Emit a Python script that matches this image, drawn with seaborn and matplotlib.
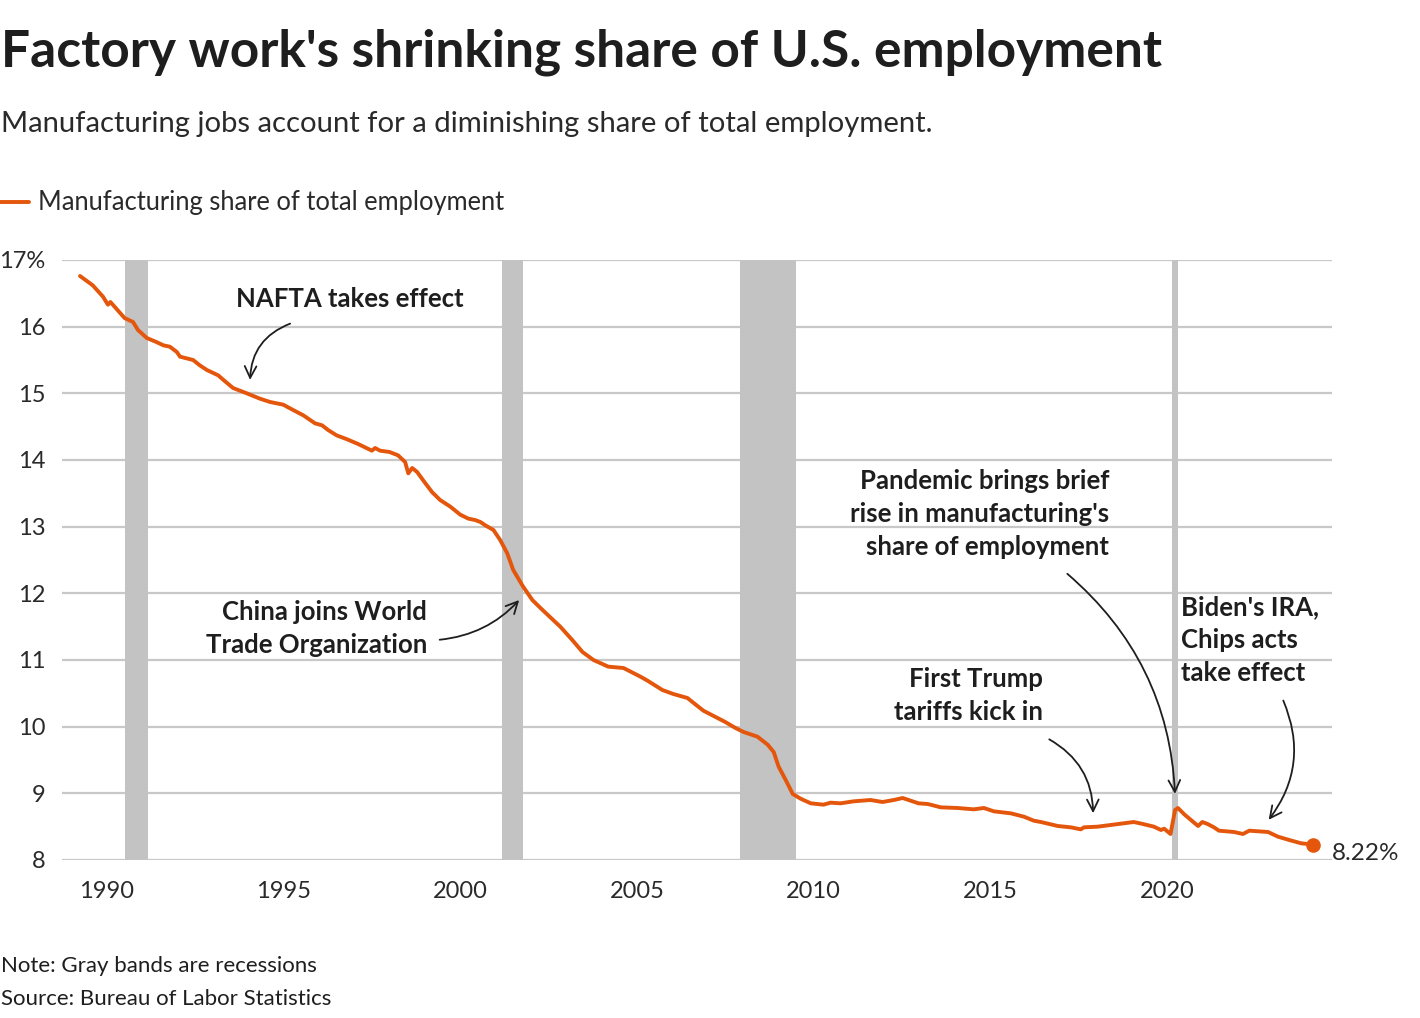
import matplotlib
matplotlib.use("Agg")
import matplotlib.pyplot as plt
import seaborn as sns
import pandas as pd

# ---------------- data ----------------
dates = [1989.24, 1989.60, 1989.89, 1990.03, 1990.10, 1990.50, 1990.74, 1990.88,
         1991.13, 1991.40, 1991.60, 1991.78, 1991.98, 1992.07, 1992.44, 1992.63,
         1992.83, 1993.15, 1993.30, 1993.57, 1993.96, 1994.33, 1994.62, 1994.99,
         1995.27, 1995.56, 1995.89, 1996.09, 1996.26, 1996.50, 1996.80, 1997.11,
         1997.50, 1997.59, 1997.73, 1998.00, 1998.24, 1998.44, 1998.53, 1998.64,
         1998.78, 1999.00, 1999.20, 1999.43, 1999.72, 2000.00, 2000.23, 2000.42,
         2000.57, 2000.71, 2000.94, 2001.13, 2001.33, 2001.50, 2001.78, 2002.04,
         2002.27, 2002.49, 2002.83, 2003.17, 2003.46, 2003.77, 2004.19, 2004.62,
         2005.10, 2005.30, 2005.72, 2006.03, 2006.43, 2006.57, 2006.88, 2007.17,
         2007.50, 2007.79, 2008.02, 2008.41, 2008.70, 2008.87, 2009.01, 2009.21,
         2009.41, 2009.63, 2009.92, 2010.28, 2010.48, 2010.76, 2011.13, 2011.61,
         2011.95, 2012.27, 2012.52, 2012.97, 2013.23, 2013.60, 2014.08, 2014.53,
         2014.82, 2015.10, 2015.58, 2015.95, 2016.23, 2016.43, 2016.91, 2017.28,
         2017.56, 2017.65, 2018.04, 2018.33, 2018.61, 2019.06, 2019.32, 2019.63,
         2019.83, 2019.92, 2020.10, 2020.23, 2020.31, 2020.50, 2020.77, 2020.88,
         2021.00, 2021.15, 2021.33, 2021.47, 2021.90, 2022.15, 2022.33, 2022.86,
         2023.14, 2023.46, 2023.80, 2023.99, 2024.13]
share = [16.76, 16.62, 16.45, 16.33, 16.37, 16.13, 16.07, 15.95,
         15.83, 15.77, 15.72, 15.70, 15.62, 15.55, 15.50, 15.42,
         15.35, 15.27, 15.20, 15.08, 15.00, 14.92, 14.87, 14.83,
         14.75, 14.67, 14.55, 14.52, 14.45, 14.37, 14.31, 14.24,
         14.14, 14.18, 14.14, 14.12, 14.07, 13.97, 13.80, 13.88,
         13.82, 13.66, 13.52, 13.40, 13.30, 13.18, 13.12, 13.10,
         13.07, 13.02, 12.95, 12.80, 12.60, 12.35, 12.10, 11.90,
         11.78, 11.67, 11.50, 11.30, 11.12, 11.00, 10.90, 10.88,
         10.75, 10.69, 10.55, 10.49, 10.43, 10.37, 10.24, 10.16,
         10.07, 9.98, 9.92, 9.85, 9.73, 9.62, 9.40, 9.20,
         8.99, 8.92, 8.85, 8.83, 8.86, 8.85, 8.88, 8.90,
         8.87, 8.90, 8.93, 8.85, 8.84, 8.79, 8.78, 8.76,
         8.78, 8.73, 8.70, 8.65, 8.59, 8.57, 8.51, 8.49,
         8.46, 8.49, 8.50, 8.52, 8.54, 8.57, 8.54, 8.50,
         8.45, 8.47, 8.39, 8.75, 8.78, 8.68, 8.56, 8.51,
         8.57, 8.54, 8.49, 8.44, 8.42, 8.39, 8.44, 8.42,
         8.35, 8.30, 8.25, 8.24, 8.22]

rec_start = [1990.50, 2001.19, 2007.92, 2020.15]
rec_end = [1991.17, 2001.79, 2009.50, 2020.32]

x_ticks = [1990, 1995, 2000, 2005, 2010, 2015, 2020]
y_ticks = [8, 9, 10, 11, 12, 13, 14, 15, 16, 17]
y_labels = ["8", "9", "10", "11", "12", "13", "14", "15", "16", "17%"]

series_name = "Manufacturing share of total employment"
end_label = "8.22%"

df = pd.DataFrame({"date": dates, "share": share})

# ---------------- style ----------------
sns.set_theme(style="white")
FONT = ["Lato", "DejaVu Sans"]
plt.rcParams["font.family"] = FONT

ORANGE = "#e4560c"
DARK = "#1e1e1e"
GREY_TXT = "#2a2a2a"
LW = "normal"

W, H = 1420, 1018
fig = plt.figure(figsize=(W / 100, H / 100), dpi=100)
ax = fig.add_axes([62 / W, 1 - 860 / H, (1332 - 62) / W, 600 / H])

# recessions
for s, e in zip(rec_start, rec_end):
    ax.axvspan(s, e, color="#c3c3c3", lw=0, zorder=1)

# gridlines
for yv in y_ticks:
    ax.axhline(yv, color="#c8c8c8", lw=1.6, zorder=0.5)

sns.lineplot(data=df, x="date", y="share", ax=ax, color=ORANGE, lw=2.8,
             label=series_name, zorder=3, legend=False)
ax.scatter([dates[-1]], [share[-1]], s=110, color=ORANGE, zorder=4, lw=0)
ax.text(dates[-1] + 0.55, share[-1] - 0.12, end_label, fontsize=17.5,
        color=GREY_TXT, fontweight=LW, va="center", ha="left")

ax.set_xlim(1988.73, 2024.67)
ax.set_ylim(8, 17)
ax.set_xticks(x_ticks)
ax.set_xticklabels([str(t) for t in x_ticks])
ax.set_yticks(y_ticks)
ax.set_yticklabels(y_labels)
ax.tick_params(axis="both", length=0, labelsize=17, labelcolor=GREY_TXT)
ax.tick_params(axis="x", pad=15)
ax.tick_params(axis="y", pad=12)
for lab in ax.get_xticklabels() + ax.get_yticklabels():
    lab.set_fontweight(LW)
for sp in ax.spines.values():
    sp.set_visible(False)
ax.set_xlabel("")
ax.set_ylabel("")
ax.grid(False)
ax.patch.set_alpha(0)

# ---------------- annotations ----------------
ann_kw = dict(fontsize=18.5, fontweight="bold", color=DARK, linespacing=1.45)
arrow_kw = dict(arrowstyle="->,head_length=0.7,head_width=0.35", color=DARK, lw=1.3)

ax.text(1996.88, 16.415, "NAFTA takes effect", ha="center", va="center", **ann_kw)
ax.annotate("", xy=(1994.05, 15.16), xytext=(1995.26, 16.06),
            arrowprops=dict(connectionstyle="arc3,rad=0.35", **arrow_kw))

ax.text(1999.06, 11.47, "China joins World\nTrade Organization", ha="right", va="center", **ann_kw)
ax.annotate("", xy=(2001.72, 11.93), xytext=(1999.34, 11.30),
            arrowprops=dict(connectionstyle="arc3,rad=0.2", **arrow_kw))

ax.text(2018.36, 13.19, "Pandemic brings brief\nrise in manufacturing's\nshare of employment",
        ha="right", va="center", **ann_kw)
ax.annotate("", xy=(2020.23, 8.95), xytext=(2017.12, 12.32),
            arrowprops=dict(connectionstyle="arc3,rad=-0.22", **arrow_kw))

ax.text(2016.49, 10.47, "First Trump\ntariffs kick in", ha="right", va="center", **ann_kw)
ax.annotate("", xy=(2017.91, 8.66), xytext=(2016.60, 9.83),
            arrowprops=dict(connectionstyle="arc3,rad=-0.3", **arrow_kw))

ax.text(2020.40, 11.30, "Biden's IRA,\nChips acts\ntake effect", ha="left", va="center", **ann_kw)
ax.annotate("", xy=(2022.83, 8.57), xytext=(2023.26, 10.43),
            arrowprops=dict(connectionstyle="arc3,rad=-0.3", **arrow_kw))

# ---------------- header / footer ----------------
fig.text(1 / W, 1 - 67 / H, "Factory work's shrinking share of U.S. employment",
         fontsize=37, fontweight="bold", color=DARK, va="baseline", ha="left")
fig.text(1 / W, 1 - 132 / H, "Manufacturing jobs account for a diminishing share of total employment.",
         fontsize=21.1, fontweight=LW, color=GREY_TXT, va="baseline", ha="left")

# legend
fig.add_artist(plt.Line2D([0, 29 / W], [1 - 202 / H, 1 - 202 / H], color=ORANGE, lw=2.8,
                          transform=fig.transFigure))
fig.text(38 / W, 1 - 210 / H, series_name, fontsize=18.4, fontweight=LW,
         color=GREY_TXT, va="baseline", ha="left")

fig.text(1 / W, 1 - 972 / H, "Note: Gray bands are recessions", fontsize=16,
         color=DARK, va="baseline", ha="left")
fig.text(1 / W, 1 - 1005 / H, "Source: Bureau of Labor Statistics", fontsize=16,
         color=DARK, va="baseline", ha="left")

fig.savefig("out.png", dpi=100, facecolor="white")
